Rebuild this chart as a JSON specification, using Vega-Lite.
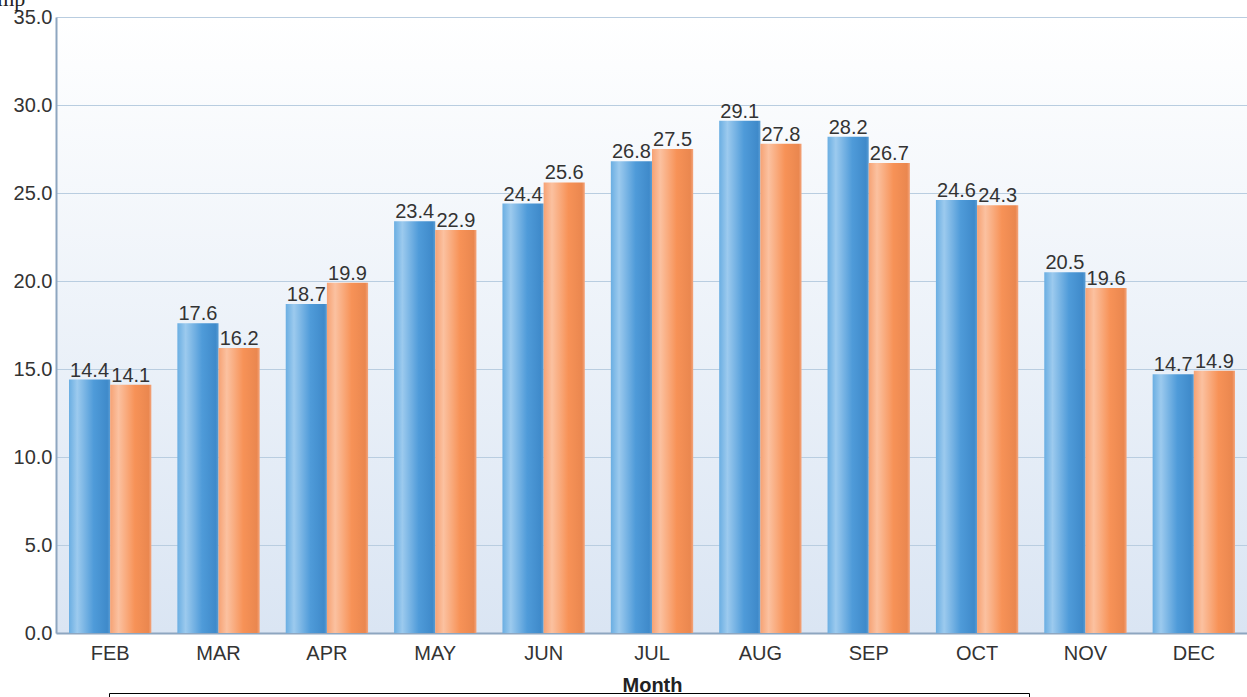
{
  "$schema": "https://vega.github.io/schema/vega-lite/v6.json",
  "autosize": "none",
  "padding": {"left": 56, "top": 17, "right": 0, "bottom": 64},
  "width": 1192,
  "height": 616,
  "background": "white",
  "config": {
    "font": "Liberation Sans",
    "view": {"stroke": null, "fill": {"gradient": "linear", "x1": 0, "y1": 0, "x2": 0, "y2": 1,
        "stops": [{"offset": 0, "color": "#ffffff"}, {"offset": 1, "color": "#dae5f3"}]}}
  },
  "data": {
    "values": [
      {"month": "FEB", "series": "A", "temp": 14.4}, {"month": "FEB", "series": "B", "temp": 14.1},
      {"month": "MAR", "series": "A", "temp": 17.6}, {"month": "MAR", "series": "B", "temp": 16.2},
      {"month": "APR", "series": "A", "temp": 18.7}, {"month": "APR", "series": "B", "temp": 19.9},
      {"month": "MAY", "series": "A", "temp": 23.4}, {"month": "MAY", "series": "B", "temp": 22.9},
      {"month": "JUN", "series": "A", "temp": 24.4}, {"month": "JUN", "series": "B", "temp": 25.6},
      {"month": "JUL", "series": "A", "temp": 26.8}, {"month": "JUL", "series": "B", "temp": 27.5},
      {"month": "AUG", "series": "A", "temp": 29.1}, {"month": "AUG", "series": "B", "temp": 27.8},
      {"month": "SEP", "series": "A", "temp": 28.2}, {"month": "SEP", "series": "B", "temp": 26.7},
      {"month": "OCT", "series": "A", "temp": 24.6}, {"month": "OCT", "series": "B", "temp": 24.3},
      {"month": "NOV", "series": "A", "temp": 20.5}, {"month": "NOV", "series": "B", "temp": 19.6},
      {"month": "DEC", "series": "A", "temp": 14.7}, {"month": "DEC", "series": "B", "temp": 14.9}
    ]
  },
  "encoding": {
    "x": {
      "field": "month", "type": "nominal", "sort": null,
      "scale": {"paddingInner": 0.24, "paddingOuter": 0.12},
      "axis": {
        "labelAngle": 0, "labelFontSize": 20, "labelColor": "#333333", "labelPadding": 10,
        "ticks": false, "domainColor": "#8ea6c0", "domainWidth": 2,
        "title": "Month", "titleFontSize": 20, "titleFontWeight": "bold", "titleColor": "#222222", "titlePadding": 12
      }
    },
    "xOffset": {"field": "series", "type": "nominal", "scale": {"paddingInner": 0}},
    "y": {
      "field": "temp", "type": "quantitative",
      "scale": {"domain": [0, 35], "nice": false},
      "axis": {
        "values": [0, 5, 10, 15, 20, 25, 30, 35], "format": ".1f",
        "labelFontSize": 20, "labelColor": "#333333", "labelPadding": 4, "ticks": false,
        "domainColor": "#8ea6c0", "domainWidth": 2,
        "gridColor": "#b9cde0", "gridWidth": 1,
        "title": "Temp", "titleAngle": 0, "titleAlign": "left", "titleBaseline": "alphabetic",
        "titleX": -81, "titleY": -12, "titleFont": "Liberation Serif", "titleFontWeight": "normal",
        "titleFontSize": 22, "titleColor": "#222222"
      }
    },
    "stroke": {
      "field": "series", "type": "nominal",
      "scale": {"domain": ["A", "B"], "range": ["#4f9bd9", "#f69157"]},
      "legend": {
        "orient": "none", "legendX": 53, "legendY": 676, "direction": "horizontal",
        "title": null, "strokeColor": "#000000", "padding": 24,
        "labelFontSize": 19, "symbolType": "square", "symbolSize": 150, "columnPadding": 800,
        "zindex": 0
      }
    }
  },
  "layer": [
    {
      "transform": [{"filter": {"field": "series", "equal": "A"}}],
      "mark": {"type": "bar", "strokeOpacity": 0, "fill": {"gradient": "linear", "x1": 0, "y1": 0, "x2": 1, "y2": 0, "stops": [
              {"offset": 0, "color": "#6aaee2"}, {"offset": 0.2, "color": "#9ccaee"},
              {"offset": 0.6, "color": "#4f9bd9"}, {"offset": 0.93, "color": "#3f8aca"}, {"offset": 1, "color": "#5a9dd4"}]}}
    },
    {
      "transform": [{"filter": {"field": "series", "equal": "B"}}],
      "mark": {"type": "bar", "strokeOpacity": 0, "fill": {"gradient": "linear", "x1": 0, "y1": 0, "x2": 1, "y2": 0, "stops": [
              {"offset": 0, "color": "#f6a274"}, {"offset": 0.2, "color": "#fbc1a0"},
              {"offset": 0.6, "color": "#f79257"}, {"offset": 0.93, "color": "#ea874f"}, {"offset": 1, "color": "#f4a67e"}]}}
    },
    {
      "mark": {"type": "text", "baseline": "alphabetic", "dy": -3, "fontSize": 20, "fill": "#333333", "strokeOpacity": 0},
      "encoding": {
        "text": {"field": "temp", "type": "quantitative", "format": ".1f"}
      }
    }
  ]
}
